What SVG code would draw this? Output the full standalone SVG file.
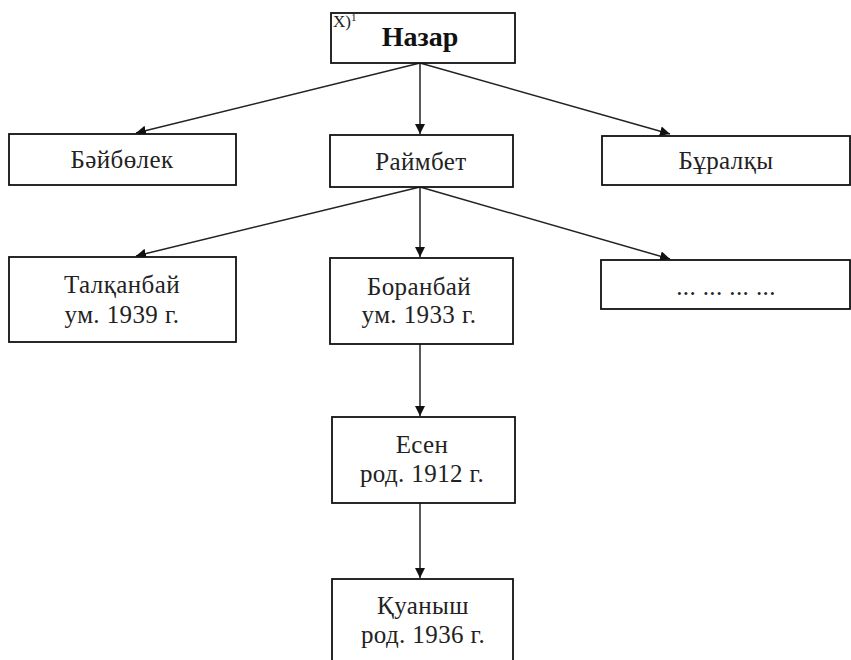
<svg xmlns="http://www.w3.org/2000/svg" width="851" height="660" viewBox="0 0 851 660">
<style>
.box{fill:#fff;stroke:#111;stroke-width:1.8}
text{font-family:'Liberation Serif','DejaVu Serif',serif}
.t{font-size:25px;fill:#222;text-anchor:middle;letter-spacing:0.4px}
.b{font-weight:bold;font-size:28px;fill:#111;letter-spacing:0}
.s{font-size:17px;fill:#222}
.c{stroke:#222;stroke-width:1.5;fill:none;marker-end:url(#ah)}
</style>
<defs>
<marker id="ah" viewBox="0 0 10 10" refX="10" refY="5" markerWidth="10" markerHeight="10" markerUnits="userSpaceOnUse" orient="auto">
<path d="M0,0 L10,5 L0,10 z" fill="#111"/>
</marker>
</defs>
<rect width="851" height="660" fill="#fff"/>
<g id="connectors">
<path class="c" d="M420,63 L136,133"/>
<path class="c" d="M420,63 L420,134"/>
<path class="c" d="M420,63 L670,134"/>
<path class="c" d="M420,187 L136,256"/>
<path class="c" d="M420,187 L420,257"/>
<path class="c" d="M420,187 L670,259"/>
<path class="c" d="M420,344 L420,416"/>
<path class="c" d="M420,503 L420,578"/>
</g>
<g id="nazar"><rect class="box" x="331" y="13" width="184" height="50"/><text class="s" x="333" y="27">X)<tspan font-size="11" dy="-6">1</tspan></text><text class="t b" x="420" y="46">Назар</text></g>
<g id="baybolek"><rect class="box" x="9" y="134" width="227" height="51"/><text class="t" x="122" y="168">Бәйбөлек</text></g>
<g id="raimbet"><rect class="box" x="330" y="135" width="183" height="52"/><text class="t" x="421" y="170">Раймбет</text></g>
<g id="buralky"><rect class="box" x="602" y="136" width="248" height="49"/><text class="t" x="726" y="169">Бұралқы</text></g>
<g id="talkanbay"><rect class="box" x="9" y="257" width="227" height="85"/><text class="t" x="122" y="293">Талқанбай</text><text class="t" x="122" y="323">ум. 1939 г.</text></g>
<g id="boranbay"><rect class="box" x="330" y="258" width="183" height="86"/><text class="t" x="419" y="295">Боранбай</text><text class="t" x="419" y="323">ум. 1933 г.</text></g>
<g id="dots"><rect class="box" x="601" y="260" width="249" height="49"/><text class="t" x="726" y="295">... ... ... ...</text></g>
<g id="esen"><rect class="box" x="332" y="417" width="183" height="86"/><text class="t" x="422" y="453">Есен</text><text class="t" x="422" y="482">род. 1912 г.</text></g>
<g id="kuanysh"><rect class="box" x="332" y="579" width="181" height="90"/><text class="t" x="423" y="614">Қуаныш</text><text class="t" x="423" y="643">род. 1936 г.</text></g>
</svg>
